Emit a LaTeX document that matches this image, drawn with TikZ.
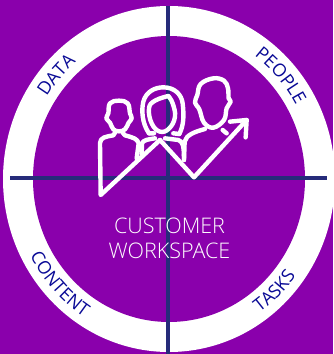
\documentclass[tikz,border=0pt]{standalone}
\usepackage{fontspec}
\setmainfont{Open Sans Light}
\newfontfamily\bandfont{Open Sans}
\usetikzlibrary{decorations.text}
\definecolor{bg}{HTML}{8A00AC}
\definecolor{axis}{HTML}{262B7A}
\definecolor{band}{HTML}{0A0A96}
\newcommand{\bandtxt}{\color{band}\bandfont\fontsize{18}{18}\selectfont}
\tikzset{
  axisline/.style={draw=axis,line width=3.4pt},
  iconline/.style={draw=white,line width=4.4pt,line cap=round,line join=round},
  bandlabel/.style={decorate,decoration={text along path,text align=center,text={#1}}}
}
\begin{document}
\begin{tikzpicture}[x=1pt,y=1pt]
\useasboundingbox (0,0) rectangle (333,354);
\clip (0,0) rectangle (333,354);
\fill[bg] (0,0) rectangle (333,354);
\coordinate (c) at (169,175);
\fill[white] (c) ellipse[x radius=166,y radius=173];
\fill[bg] (c) ellipse[x radius=136,y radius=143];
\coordinate (vt) at (168,348);
\coordinate (vb) at (168,0);
\coordinate (hl) at (10,176);
\coordinate (hr) at (327,176);
\draw[axisline] (vt) -- (vb);
\draw[axisline] (hl) -- (hr);
% labels on the band
\path[bandlabel={|\bandtxt|DATA}] ([shift={(180:145 and 152)}]c) arc[start angle=180,end angle=96,x radius=145,y radius=152];
\path[bandlabel={|\bandtxt|PEOPLE}] ([shift={(84:145 and 152)}]c) arc[start angle=84,end angle=0,x radius=145,y radius=152];
\path[bandlabel={|\bandtxt|CONTENT}] ([shift={(178:157 and 164)}]c) arc[start angle=178,end angle=268,x radius=157,y radius=164];
\path[bandlabel={|\bandtxt|TASKS}] ([shift={(270:157 and 164)}]c) arc[start angle=270,end angle=358,x radius=157,y radius=164];
% icon
\begin{scope}[shift={(80,294)},x=0.3333pt,y=-0.3333pt]
 % zigzag arrow with left side of the first body
 \draw[iconline] (240,240) -- (342,352) -- (500,180);
 \draw[iconline] (450,185) -- (500,180) -- (497,232);
 \draw[iconline] (170,295) -- (176,250) .. controls (172,236) and (160,233) .. (135,226)
    -- (128,218) (105,218) -- (100,226) .. controls (78,230) and (60,232) .. (60,250) -- (62,405) -- (240,240);
 % left head
 \draw[iconline] plot[smooth cycle,tension=0.7] coordinates {(117,122) (143,130) (150,160) (155,175) (146,188) (135,208) (117,214) (100,208) (90,188) (79,175) (85,160) (90,130)};
 % middle hair
 \draw[iconline] (207,220) .. controls (186,190) and (184,150) .. (190,125) .. controls (198,95) and (225,82) .. (250,82)
    .. controls (285,82) and (305,105) .. (308,130) .. controls (312,165) and (312,195) .. (298,222);
 \draw[iconline] (207,220) -- (222,220) (298,222) -- (280,220);
 % middle face
 \draw[iconline] plot[smooth,tension=0.7] coordinates {(265,108) (225,122) (207,145) (215,190) (240,215) (268,205) (285,170) (278,130) (265,108)};
 % middle shoulders
 \draw[iconline] (185,282) -- (186,250) .. controls (190,240) and (205,238) .. (225,235);
 \draw[iconline] (255,235) -- (295,240) .. controls (308,245) and (312,255) .. (312,300);
 % right head
 \draw[iconline] plot[smooth cycle,tension=0.65] coordinates {(400,55) (432,62) (444,85) (446,115) (452,125) (440,145) (432,180) (400,203) (372,188) (358,148) (345,128) (352,105) (362,72)};
 % right shoulders
 \draw[iconline] (312,300) -- (314,245) .. controls (318,225) and (345,215) .. (375,207);
 \draw[iconline] (428,210) -- (440,220);
\end{scope}
\node[text=white,font=\fontsize{21.5}{24.5}\selectfont,align=center,inner sep=0pt] (title) at (169.5,115.5) {CUSTOMER\\WORKSPACE};
\end{tikzpicture}
\end{document}
